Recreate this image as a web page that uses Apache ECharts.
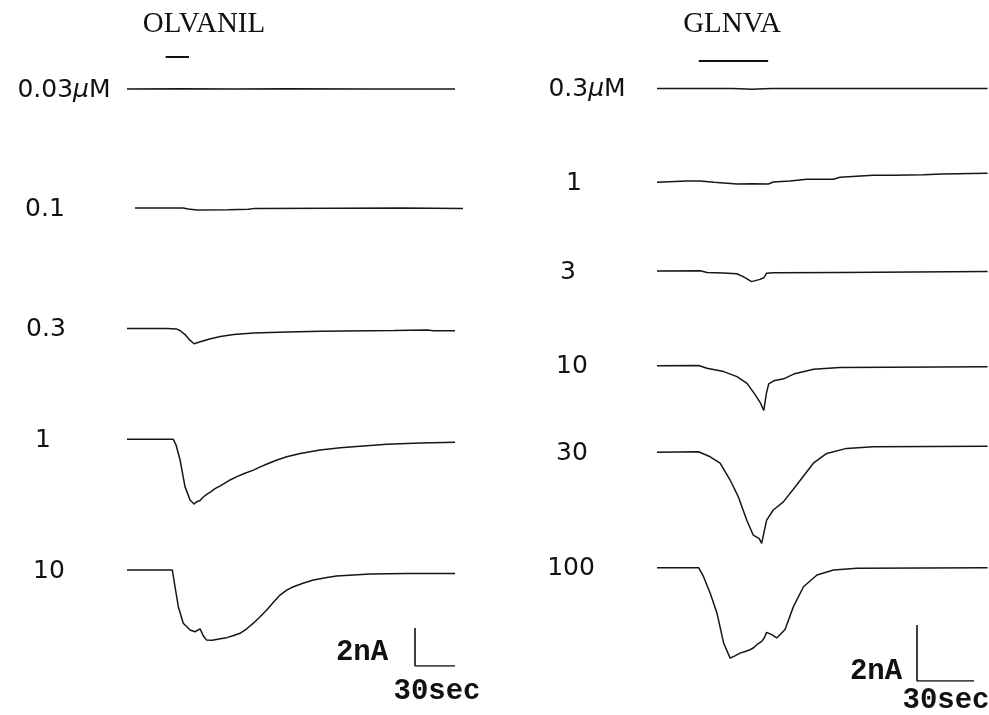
<!DOCTYPE html>
<html>
<head>
<meta charset="utf-8">
<script src="https://cdn.jsdelivr.net/npm/echarts@6/dist/echarts.min.js"></script>
<style>html,body{margin:0;padding:0;background:#fff}#c{width:989px;height:715px}</style>
</head>
<body>
<div id="c"></div>
<script>
// ---------- DATA (time in s, current in nA relative to baseline) ----------
const olvLabels = ['0.03{i|μ}M', '0.1', '0.3', '1', '10'];
const glnLabels = ['0.3{i|μ}M', '1', '3', '10', '30', '100'];
const olvDrug = [29, 46.5];     // application period, s
const glnDrug = [22, 58.5];
const scaleTime = [0, 30];      // s
const scaleCurrent = [0, 2];    // nA

const olv003 = [[0,0],[40,0.01],[80,0],[120,0.01],[180,0],[246,0]];
const olv01 = [[0,0],[36,0],[40,-0.05],[46.5,-0.11],[70,-0.09],[85,-0.07],[90,-0.02],[150,-0.01],[200,0],[246,-0.02]];
const olv03 = [[0,0],[30,0],[37,-0.02],[40,-0.12],[44,-0.35],[47,-0.6],[50.3,-0.8],[55,-0.7],[62,-0.55],[70,-0.42],[80,-0.32],[95,-0.24],[120,-0.18],[145,-0.15],[200,-0.11],[225,-0.08],[230,-0.12],[246,-0.12]];
const olv1 = [[0,0],[34.7,0],[36.8,-0.3],[39.8,-1.09],[43.5,-2.49],[47.3,-3.19],[50.3,-3.41],[52,-3.3],[54.8,-3.22],[57,-3.05],[59.8,-2.9],[63,-2.75],[66,-2.6],[70,-2.45],[74,-2.28],[77.3,-2.14],[82,-1.98],[88,-1.8],[94.8,-1.62],[100,-1.45],[105,-1.3],[112,-1.1],[119.8,-0.92],[130,-0.75],[144.8,-0.56],[160,-0.45],[169.8,-0.39],[194.8,-0.26],[220,-0.2],[246,-0.16]];
const olv10 = [[0,0],[34,0],[36,-0.88],[38.5,-1.93],[42.2,-2.8],[47.3,-3.16],[51,-3.25],[54.8,-3.1],[57.2,-3.46],[59.5,-3.68],[64,-3.7],[70,-3.62],[74.8,-3.56],[80,-3.45],[84.8,-3.33],[90,-3.08],[94.8,-2.8],[100,-2.45],[104.8,-2.1],[110,-1.68],[114.8,-1.32],[120,-1.05],[124.8,-0.88],[132,-0.7],[139.8,-0.53],[150,-0.4],[157.3,-0.32],[182.3,-0.21],[210,-0.18],[246,-0.18]];

const gln03 = [[0,0],[40,0],[50,-0.03],[60,0],[100,0],[174,0]];
const gln1 = [[0,0],[15.8,0.05],[22.8,0.05],[30,0],[42,-0.06],[50,-0.05],[58.6,-0.06],[61.2,0.01],[70,0.05],[78.8,0.11],[92.8,0.11],[96.3,0.18],[113.8,0.25],[125,0.25],[140.2,0.27],[150,0.3],[174,0.32]];
const gln3 = [[0,0],[22.8,0.01],[26.3,-0.05],[35,-0.07],[42,-0.1],[45.4,-0.2],[49.8,-0.38],[54.2,-0.3],[56.3,-0.24],[57.7,-0.08],[61.2,-0.06],[96.3,-0.05],[174,-0.02]];
const gln10 = [[0,0],[21.9,0.01],[26.3,-0.09],[35.1,-0.21],[42.1,-0.39],[47.4,-0.63],[51.8,-1.05],[54.5,-1.34],[56.2,-1.6],[57.6,-0.98],[58.8,-0.65],[61.4,-0.54],[64,-0.5],[66.7,-0.47],[71.9,-0.3],[82.4,-0.13],[96.3,-0.06],[174,-0.04]];
const gln30 = [[0,0],[21.9,0.02],[28,-0.16],[33.2,-0.39],[38.5,-0.99],[42.8,-1.59],[47.2,-2.42],[50.7,-2.96],[53.8,-3.08],[55.1,-3.25],[56,-2.96],[57.7,-2.42],[61.2,-2.06],[66.5,-1.77],[73.5,-1.17],[82.3,-0.39],[89.3,-0.04],[99.8,0.14],[113.8,0.2],[174,0.22]];
const gln100 = [[0,0],[21.9,0],[24.5,-0.32],[28,-0.91],[31.6,-1.63],[35.1,-2.7],[38.5,-3.23],[41,-3.15],[43.7,-3.05],[46,-3.0],[49,-2.93],[51,-2.85],[52.5,-2.75],[55.1,-2.63],[56.5,-2.5],[57.7,-2.31],[60.4,-2.39],[63,-2.51],[67.4,-2.21],[71.8,-1.39],[77.1,-0.68],[84.2,-0.26],[92.9,-0.08],[105.3,-0.02],[174,0]];

// ---------- LAYOUT ----------
const panels = [
  { title: 'OLVANIL', titleX: 204, pxS: 4/3, pxNA: 19, tMax: 246,
    traces: [olv003, olv01, olv03, olv1, olv10], labels: olvLabels,
    lefts: [127, 135, 127, 127, 127], bases: [89, 208, 328.5, 439.3, 570],
    labelX: [64, 45, 46, 43, 49],
    drug: olvDrug, drugY: 57, drugLeft: 127,
    scaleLeft: 415, scaleBottom: 666, nAText: [362, 653], secText: [437, 692] },
  { title: 'GLNVA', titleX: 732, pxS: 1.9, pxNA: 28, tMax: 174,
    traces: [gln03, gln1, gln3, gln10, gln30, gln100], labels: glnLabels,
    lefts: [657, 657, 657, 657, 657, 657], bases: [88.5, 182.3, 271, 365.7, 452.3, 567.7],
    labelX: [587, 574, 568, 572, 572, 571],
    drug: glnDrug, drugY: 61, drugLeft: 657,
    scaleLeft: 917, scaleBottom: 681, nAText: [876, 672], secText: [946, 701] }
];

const grids = [], xAxes = [], yAxes = [], series = [], graphics = [];
const lineCol = '#161616';
function addGrid(g, xr, yr) {
  const i = grids.length;
  grids.push(Object.assign({ containLabel: false }, g));
  xAxes.push({ type: 'value', gridIndex: i, min: xr[0], max: xr[1], show: false });
  yAxes.push({ type: 'value', gridIndex: i, min: yr[0], max: yr[1], show: false });
  return i;
}
const yLo = -4.5, yHi = 1.5;
panels.forEach(p => {
  p.traces.forEach((d, k) => {
    const gi = addGrid({ left: p.lefts[k], width: p.tMax * p.pxS, top: p.bases[k] - yHi * p.pxNA, height: (yHi - yLo) * p.pxNA },
      [0, p.tMax], [yLo, yHi]);
    series.push({ type: 'line', xAxisIndex: gi, yAxisIndex: gi, data: d, showSymbol: false, silent: true,
      lineStyle: { color: lineCol, width: 1.5 }, animation: false });
    graphics.push({ type: 'text', x: p.labelX[k], y: p.bases[k] + 1,
      style: { text: p.labels[k], fill: '#111', font: '25px "DejaVu Sans"', align: 'center', verticalAlign: 'middle',
        rich: { i: { font: 'italic 25px "DejaVu Sans"', fill: '#111' } } } });
  });
  // drug application bar
  const dg = addGrid({ left: p.drugLeft, width: p.tMax * p.pxS, top: p.drugY - 5, height: 10 }, [0, p.tMax], [-1, 1]);
  series.push({ type: 'line', xAxisIndex: dg, yAxisIndex: dg, data: [[p.drug[0], 0], [p.drug[1], 0]], showSymbol: false,
    lineStyle: { color: '#111', width: 2 }, animation: false });
  // scale bar
  const sg = addGrid({ left: p.scaleLeft, width: scaleTime[1] * p.pxS, top: p.scaleBottom - scaleCurrent[1] * p.pxNA, height: scaleCurrent[1] * p.pxNA },
    scaleTime, scaleCurrent);
  series.push({ type: 'line', xAxisIndex: sg, yAxisIndex: sg,
    data: [[scaleTime[0], scaleCurrent[1]], [scaleTime[0], scaleCurrent[0]], [scaleTime[1], scaleCurrent[0]]],
    showSymbol: false, lineStyle: { color: '#111', width: 1.6 }, animation: false });
  graphics.push({ type: 'text', x: p.nAText[0], y: p.nAText[1],
    style: { text: '2nA', fill: '#111', font: 'bold 29px "Liberation Mono"', align: 'center', verticalAlign: 'middle' } });
  graphics.push({ type: 'text', x: p.secText[0], y: p.secText[1],
    style: { text: '30sec', fill: '#111', font: 'bold 29px "Liberation Mono"', align: 'center', verticalAlign: 'middle' } });
  graphics.push({ type: 'text', x: p.titleX, y: 24,
    style: { text: p.title, fill: '#111', font: '29px "Liberation Serif"', align: 'center', verticalAlign: 'middle' } });
});

const chart = echarts.init(document.getElementById('c'), null, { renderer: 'canvas' });
chart.setOption({
  backgroundColor: '#fff', animation: false,
  grid: grids, xAxis: xAxes, yAxis: yAxes, series: series, graphic: graphics
});
</script>
</body>
</html>
